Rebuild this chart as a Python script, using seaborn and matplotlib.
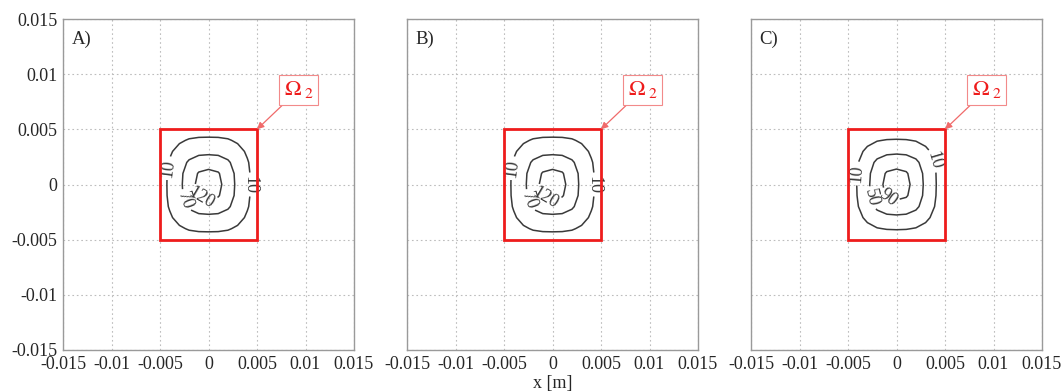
import numpy as np
import matplotlib
matplotlib.use("Agg")
import matplotlib.pyplot as plt
from matplotlib.patches import Rectangle
import seaborn as sns

# Grid of sample points (m) over the heated subdomain Omega_2
grid_x = [-0.005, -0.004, -0.003, -0.002, -0.001, 0.0, 0.001, 0.002, 0.003, 0.004, 0.005]
grid_y = [-0.005, -0.004, -0.003, -0.002, -0.001, 0.0, 0.001, 0.002, 0.003, 0.004, 0.005]

# Field values on the grid, rows follow grid_y, columns follow grid_x
field_a = [
    [-65, -44, -29, -20, -17, -17, -17, -20, -29, -44, -65],
    [-44, -18,   2,  15,  20,  21,  20,  15,   2, -18, -44],
    [-29,   2,  29,  48,  57,  59,  57,  48,  29,   2, -29],
    [-20,  15,  48,  77,  93,  96,  93,  77,  48,  15, -20],
    [-17,  20,  57,  93, 124, 134, 124,  93,  57,  20, -17],
    [-17,  21,  59,  96, 134, 171, 134,  96,  59,  21, -17],
    [-17,  20,  57,  93, 124, 134, 124,  93,  57,  20, -17],
    [-20,  15,  48,  77,  93,  96,  93,  77,  48,  15, -20],
    [-29,   2,  29,  48,  57,  59,  57,  48,  29,   2, -29],
    [-44, -18,   2,  15,  20,  21,  20,  15,   2, -18, -44],
    [-65, -44, -29, -20, -17, -17, -17, -20, -29, -44, -65],
]
field_b = [
    [-65, -44, -29, -20, -17, -17, -17, -20, -29, -44, -65],
    [-44, -18,   2,  15,  20,  21,  20,  15,   2, -18, -44],
    [-29,   2,  29,  48,  57,  59,  57,  48,  29,   2, -29],
    [-20,  15,  48,  77,  93,  96,  93,  77,  48,  15, -20],
    [-17,  20,  57,  93, 124, 134, 124,  93,  57,  20, -17],
    [-17,  21,  59,  96, 134, 171, 134,  96,  59,  21, -17],
    [-17,  20,  57,  93, 124, 134, 124,  93,  57,  20, -17],
    [-20,  15,  48,  77,  93,  96,  93,  77,  48,  15, -20],
    [-29,   2,  29,  48,  57,  59,  57,  48,  29,   2, -29],
    [-44, -18,   2,  15,  20,  21,  20,  15,   2, -18, -44],
    [-65, -44, -29, -20, -17, -17, -17, -20, -29, -44, -65],
]
field_c = [
    [-55, -38, -27, -20, -17, -17, -17, -20, -27, -38, -55],
    [-38, -18,  -2,   8,  12,  13,  12,   8,  -2, -18, -38],
    [-27,  -2,  20,  35,  41,  43,  41,  35,  20,  -2, -27],
    [-20,   8,  35,  57,  70,  72,  70,  57,  35,   8, -20],
    [-17,  12,  41,  70,  94, 102,  94,  70,  41,  12, -17],
    [-17,  13,  43,  72, 102, 132, 102,  72,  43,  13, -17],
    [-17,  12,  41,  70,  94, 102,  94,  70,  41,  12, -17],
    [-20,   8,  35,  57,  70,  72,  70,  57,  35,   8, -20],
    [-27,  -2,  20,  35,  41,  43,  41,  35,  20,  -2, -27],
    [-38, -18,  -2,   8,  12,  13,  12,   8,  -2, -18, -38],
    [-55, -38, -27, -20, -17, -17, -17, -20, -27, -38, -55],
]

levels_a = [10, 70, 120]
levels_b = [10, 70, 120]
levels_c = [10, 50, 90]

panel_names = ["A)", "B)", "C)"]
tick_values = [-0.015, -0.01, -0.005, 0, 0.005, 0.01, 0.015]
tick_labels = ["-0.015", "-0.01", "-0.005", "0", "0.005", "0.01", "0.015"]

# Omega_2 square and its label
omega_box = (-0.005, -0.005, 0.01, 0.01)
omega_label_pos = (0.0093, 0.0086)
omega_corner = (0.005, 0.005)

label_spots_a = [(-0.0043, 0.0015), (0.0045, 0.0), (-0.0019, -0.0013), (-0.0006, -0.0008)]
label_spots_c = [(-0.0042, 0.0010), (0.0040, 0.0022), (-0.0025, -0.0012), (-0.0008, -0.0010)]

sns.set_style("white")
plt.rcParams["font.family"] = ["Liberation Serif", "DejaVu Serif"]
plt.rcParams["mathtext.fontset"] = "stix"

fig = plt.figure(figsize=(10.62, 3.92), dpi=100)
W, H = 1062.0, 392.0
lefts = [63, 407, 751]
ax_w = 291
ax_bottom = (392 - 350) / H
ax_h = 331 / H

fields = [field_a, field_b, field_c]
levels = [levels_a, levels_b, levels_c]
spots = [label_spots_a, label_spots_a, label_spots_c]

X, Y = np.meshgrid(np.array(grid_x), np.array(grid_y))

for i in range(3):
    ax = fig.add_axes([lefts[i] / W, ax_bottom, ax_w / W, ax_h])
    ax.set_xlim(-0.015, 0.015)
    ax.set_ylim(-0.015, 0.015)
    ax.set_xticks(tick_values)
    ax.set_yticks(tick_values)
    ax.set_xticklabels(tick_labels, fontsize=13)
    if i == 0:
        ax.set_yticklabels(tick_labels, fontsize=13)
    else:
        ax.set_yticklabels([])
    ax.tick_params(direction="in", length=3, color="#999999", pad=4)
    ax.grid(True, linestyle=(0, (1.5, 2.5)), color="#bdbdbd", linewidth=0.8)
    for s in ax.spines.values():
        s.set_color("#9a9a9a")
        s.set_linewidth(1.0)

    cs = ax.contour(X, Y, np.array(fields[i]), levels=levels[i],
                    colors="#3a3a3a", linewidths=1.1)
    ax.clabel(cs, fmt="%d", fontsize=13, inline=True, inline_spacing=3,
              manual=spots[i])

    ax.add_patch(Rectangle(omega_box[:2], omega_box[2], omega_box[3],
                           fill=False, edgecolor="#ee1c1c", linewidth=2.0,
                           zorder=5))
    ax.annotate(r"$\Omega_{\ 2}$", xy=omega_corner, xytext=omega_label_pos,
                ha="center", va="center", color="#ee1c1c", fontsize=16,
                bbox=dict(boxstyle="square,pad=0.2", fc="white",
                          ec="#f28a8a", lw=0.8),
                arrowprops=dict(arrowstyle="-|>", color="#f06a6a", lw=0.9,
                                mutation_scale=10, shrinkA=0, shrinkB=0),
                zorder=6)

    ax.text(0.03, 0.965, panel_names[i], transform=ax.transAxes,
            ha="left", va="top", fontsize=13.5)

    if i == 1:
        ax.set_xlabel("x [m]", fontsize=13, labelpad=2)

fig.savefig("out.png", dpi=100)
